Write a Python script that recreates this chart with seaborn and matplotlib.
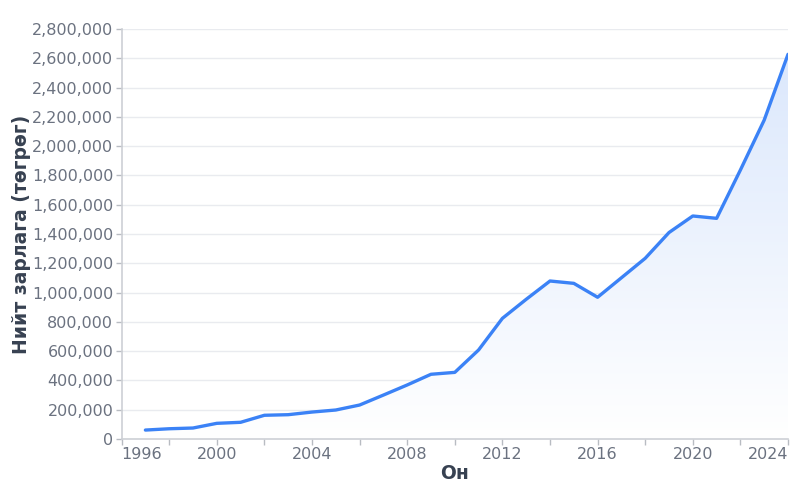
import numpy as np
import pandas as pd
import matplotlib
matplotlib.use("Agg")
import matplotlib.pyplot as plt
import seaborn as sns
from matplotlib.ticker import FuncFormatter

# average wage by year
years = [1997, 1998, 1999, 2000, 2001, 2002, 2003, 2004, 2005, 2006,
         2007, 2008, 2009, 2010, 2011, 2012, 2013, 2014, 2015, 2016,
         2017, 2018, 2019, 2020, 2021, 2022, 2023, 2024]
values = [61000, 70000, 75000, 107000, 114000, 162000, 166000, 184000, 198000, 232000,
          300000, 369000, 442000, 455000, 608000, 824000, 954000, 1079000, 1063000, 968000,
          1101000, 1234000, 1410000, 1523000, 1507000, 1837000, 2178000, 2627000]

x_label = "Он"
y_label = "Нийт зарлага (төгрөг)"
x_ticks = list(range(1996, 2025, 2))
y_ticks = list(range(0, 2800001, 200000))

line_color = "#3b82f6"
text_color = "#6b7280"
title_color = "#374151"

df = pd.DataFrame({"year": years, "value": values})

sns.set_theme(style="white")
plt.rcParams["font.family"] = ["DejaVu Sans"]

fig, ax = plt.subplots(figsize=(8, 5), dpi=100)
fig.subplots_adjust(left=0.152, right=0.985, top=0.942, bottom=0.122)

# gradient fill under the line
fill = ax.fill_between(df["year"], df["value"], 0, color="none", lw=0)
grad = np.linspace(0, 1, 256).reshape(-1, 1)
cmap = matplotlib.colors.LinearSegmentedColormap.from_list(
    "g", ["#ffffff", "#d9e6fc"])
img = ax.imshow(grad, cmap=cmap, aspect="auto", origin="lower",
                extent=[1996, 2024, 0, 2800000], zorder=1, vmin=0, vmax=1)
img.set_clip_path(fill.get_paths()[0], transform=ax.transData)

sns.lineplot(data=df, x="year", y="value", ax=ax, color=line_color,
             linewidth=2.4, zorder=3)
for l in ax.get_lines():
    l.set_solid_joinstyle("round")
    l.set_solid_capstyle("round")

ax.set_xlim(1996, 2024)
ax.set_ylim(0, 2800000)
ax.set_xticks(x_ticks)
ax.set_xticklabels([str(t) if (t - 1996) % 4 == 0 else "" for t in x_ticks])
ax.set_yticks(y_ticks)
ax.yaxis.set_major_formatter(FuncFormatter(lambda v, p: f"{int(v):,}"))

ax.grid(axis="y", color="#e9ebef", linewidth=1, zorder=0)
ax.set_axisbelow(True)
for side in ["top", "right"]:
    ax.spines[side].set_visible(False)
for side in ["left", "bottom"]:
    ax.spines[side].set_color("#cdd0d5")
    ax.spines[side].set_linewidth(1.2)

ax.tick_params(axis="both", which="major", length=4, width=1, color="#b8bcc2",
               labelsize=11.5, labelcolor=text_color, direction="out",
               bottom=True, left=True, pad=2)
labels = ax.get_xticklabels()
labels[0].set_ha("left")
labels[-1].set_ha("right")

ax.set_xlabel(x_label, fontsize=13.5, fontweight="bold", color=title_color, labelpad=1)
ax.set_ylabel(y_label, fontsize=13.5, fontweight="bold", color=title_color, labelpad=1)

fig.savefig("out.png", dpi=100, facecolor="white")
